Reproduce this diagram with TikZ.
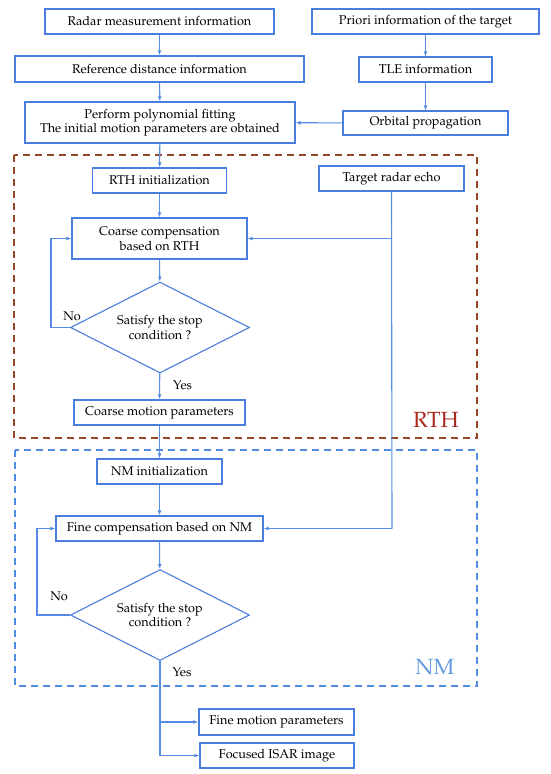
\documentclass[tikz,border=0pt]{standalone}
\usepackage[T1]{fontenc}
\usepackage{mathpazo}
\usetikzlibrary{arrows.meta,shapes.geometric}
\definecolor{edge}{RGB}{74,126,222}
\definecolor{wire}{RGB}{86,140,228}
\definecolor{rthc}{RGB}{150,72,38}
\definecolor{rtht}{RGB}{170,40,30}
\definecolor{nmc}{RGB}{80,140,225}
\definecolor{nmt}{RGB}{100,155,225}
\tikzset{box/.style={draw=edge,line width=1.2pt,align=center,inner sep=2pt,font=\fontsize{12.7}{14.5}\selectfont},cond/.style={draw=edge,line width=1.1pt,diamond,aspect=2,align=center,inner sep=0pt,minimum width=179pt,minimum height=91pt,font=\fontsize{12.7}{14.5}\selectfont},arrow/.style={-{Latex[length=5pt,width=4pt]},draw=wire,line width=1.1pt},line/.style={draw=wire,line width=1.1pt},lab/.style={font=\fontsize{12.7}{14.5}\selectfont,inner sep=1pt},frame/.style={line width=1.4pt,dash pattern=on 7pt off 5pt}}

\begin{document}
\begin{tikzpicture}[x=1pt,y=-1pt]
\useasboundingbox (0,0) rectangle (550,774);
% frames
\draw[frame,draw=rthc] (14,155) rectangle (477,438);
\draw[frame,draw=nmc] (15,450) rectangle (477,686);
\node[font=\fontsize{22}{24}\selectfont,text=rtht] (rthlab) at (436,420) {RTH};
\node[font=\fontsize{22}{24}\selectfont,text=nmt] (nmlab) at (435,667) {NM};
% boxes
\node[box,minimum width=229pt,minimum height=25pt] (radar) at (159.5,21.5) {Radar measurement information};
\node[box,minimum width=227pt,minimum height=25pt] (priori) at (425.5,21.5) {Priori information of the target};
\node[box,minimum width=289pt,minimum height=26pt] (ref) at (159.5,69) {Reference distance information};
\node[box,minimum width=133pt,minimum height=25pt] (tle) at (425.5,69.5) {TLE information};
\node[box,minimum width=270pt,minimum height=41pt] (poly) at (160,122.5) {Perform polynomial fitting\\The initial motion parameters are obtained};
\node[box,minimum width=165pt,minimum height=24pt] (orbit) at (425.5,123) {Orbital propagation};
\node[box,minimum width=134pt,minimum height=25pt] (rthinit) at (159.5,180.5) {RTH initialization};
\node[box,minimum width=145pt,minimum height=25pt] (echo) at (391.5,178.5) {Target radar echo};
\node[box,minimum width=175pt,minimum height=41pt] (coarse) at (159.5,238.5) {Coarse compensation\\based on RTH};
\node[cond] (stop1) at (160,327.5) {Satisfy the stop\\condition ?};
\node[box,minimum width=171pt,minimum height=25pt] (coarsemp) at (159.5,412.5) {Coarse motion parameters};
\node[box,minimum width=125pt,minimum height=25pt] (nminit) at (159.5,471.5) {NM initialization};
\node[box,minimum width=207pt,minimum height=25pt] (fine) at (159.5,528.5) {Fine compensation based on NM};
\node[cond] (stop2) at (160,615) {Satisfy the stop\\condition ?};
\node[box,minimum width=155pt,minimum height=26pt] (finemp) at (276.5,722) {Fine motion parameters};
\node[box,minimum width=154pt,minimum height=25pt] (isar) at (277,755.5) {Focused ISAR image};
% helper points
\coordinate (echodown) at (392,528.5);
\coordinate (yes2) at (160,722);
% connectors
\draw[arrow](radar)--(ref);\draw[arrow](ref)--(poly);\draw[arrow](priori)--(tle);\draw[arrow](tle)--(orbit);
\draw[arrow](orbit)--(poly);\draw[arrow](poly)--(rthinit);\draw[arrow](rthinit)--(coarse);\draw[arrow](coarse)--(stop1);
\draw[arrow](stop1)--(coarsemp) node[lab,pos=0.45,right=12pt] {Yes};
\draw[arrow](stop1.west)-|(51,300)|-(coarse.west);
\node[lab] (no1) at (72,316) {No};
\draw[line](echo.south)--(echodown);
\draw[arrow](echo.south|-coarse.east)--(coarse.east);
\draw[arrow](echodown)--(fine.east);
\draw[arrow](coarsemp)--(nminit);\draw[arrow](nminit)--(fine);\draw[arrow](fine)--(stop2);
\draw[arrow](stop2.west)-|(37,560)|-(fine.west);
\node[lab] (no2) at (59,596) {No};
\draw[line](stop2.south)--(yes2);
\draw[arrow](stop2.south)|-(isar.west);
\draw[arrow](yes2)--(finemp.west);
\node[lab] (yes2lab) at (182,672) {Yes};
\end{tikzpicture}
\end{document}
